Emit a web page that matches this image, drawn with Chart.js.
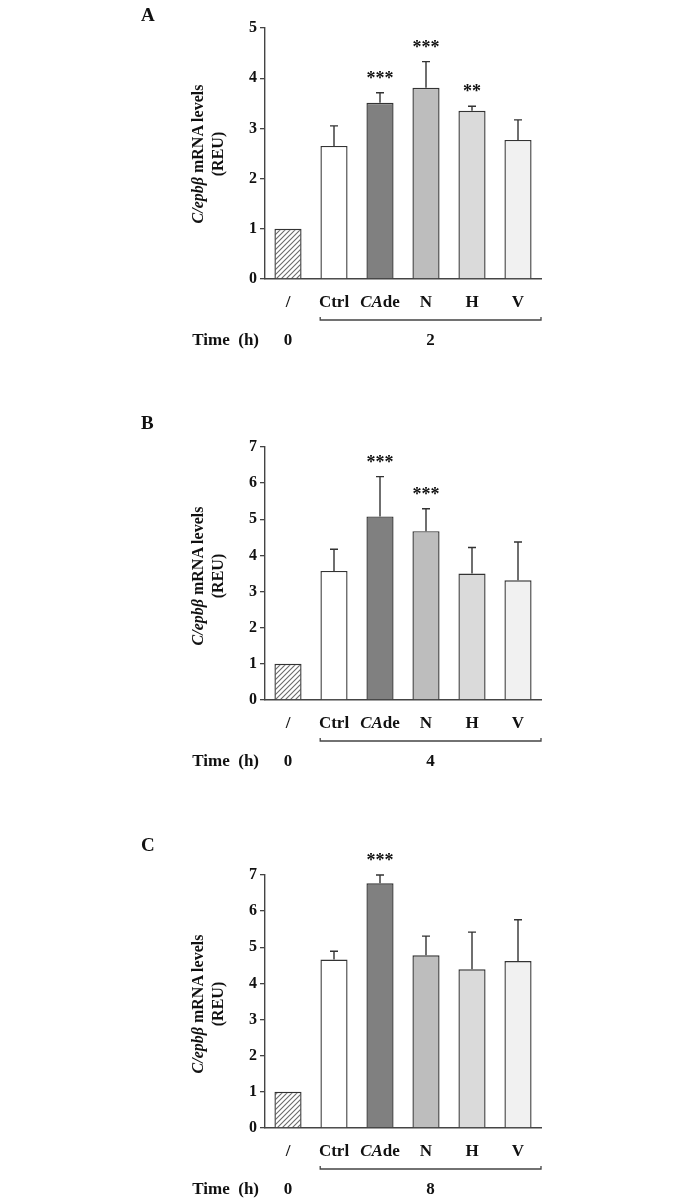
<!DOCTYPE html>
<html>
<head>
<meta charset="utf-8">
<script src="https://cdn.jsdelivr.net/npm/chart.js@4"></script>
<style>
  html, body { margin: 0; padding: 0; background: #fff; }
  body { width: 683px; height: 1199px; position: relative; overflow: hidden;
         font-family: "Liberation Serif", "Times New Roman", serif; color: #111; }
  .panel { position: absolute; left: 0; width: 683px; }
  .letter { position: absolute; left: 141px; font-weight: bold; font-size: 19px; }
  .ytitle { position: absolute; width: 240px; text-align: center; font-weight: bold; font-size: 16px;
            line-height: 20px; transform: rotate(-90deg); transform-origin: center center; }
</style>
</head>
<body>
<div class="panel" id="pA" style="top:0;height:350px"><canvas id="chartA"></canvas></div>
<div class="panel" id="pB" style="top:380px;height:390px"><canvas id="chartB"></canvas></div>
<div class="panel" id="pC" style="top:790px;height:409px"><canvas id="chartC"></canvas></div>

<div class="letter" style="top:4px">A</div>
<div class="letter" style="top:412px">B</div>
<div class="letter" style="top:834px">C</div>

<div class="ytitle" style="left:88px;top:134px"><i>C/epbβ</i> mRNA levels<br>(REU)</div>
<div class="ytitle" style="left:88px;top:556px"><i>C/epbβ</i> mRNA levels<br>(REU)</div>
<div class="ytitle" style="left:88px;top:984px"><i>C/epbβ</i> mRNA levels<br>(REU)</div>

<script>
// categories and values
const categories = ["/", "Ctrl", "CAde", "N", "H", "V"];
const timeLabels = ["0", "2", "4", "8"];

const valuesA = [1.0, 2.65, 3.51, 3.81, 3.35, 2.77];
const errorsA = [0, 0.40, 0.20, 0.52, 0.09, 0.40];
const starsA  = ["", "", "***", "***", "**", ""];

const valuesB = [1.0, 3.57, 5.08, 4.67, 3.50, 3.31];
const errorsB = [0, 0.60, 1.10, 0.62, 0.72, 1.06];
const starsB  = ["", "", "***", "***", "", ""];

const valuesC = [1.0, 4.66, 6.77, 4.78, 4.39, 4.62];
const errorsC = [0, 0.23, 0.23, 0.53, 1.03, 1.14];
const starsC  = ["", "", "***", "", "", ""];

const barColors = [null, "#ffffff", "#808080", "#bdbdbd", "#dadada", "#f1f1f1"];

// hatch for the baseline bar
function hatchPattern() {
  const c = document.createElement("canvas");
  c.width = 5; c.height = 5;
  const g = c.getContext("2d");
  g.fillStyle = "#fff";
  g.fillRect(0, 0, 5, 5);
  g.strokeStyle = "#6a6a6a";
  g.lineWidth = 1.1;
  g.beginPath();
  g.moveTo(-1, 6); g.lineTo(6, -1);
  g.moveTo(-1, 1); g.lineTo(1, -1);
  g.moveTo(4, 6); g.lineTo(6, 4);
  g.stroke();
  return g.createPattern(c, "repeat");
}

const serif = '"Liberation Serif", "Times New Roman", serif';

const extrasPlugin = {
  id: "extras",
  afterDatasetsDraw(chart, args, opts) {
    const ctx = chart.ctx;
    const x = chart.scales.x, y = chart.scales.y;
    const vals = chart.data.datasets[0].data;
    ctx.save();
    // error bars (upper only)
    ctx.strokeStyle = "#333";
    ctx.lineWidth = 1.4;
    vals.forEach((v, i) => {
      const e = opts.errors[i];
      if (!e) return;
      const px = x.getPixelForValue(i);
      const top = y.getPixelForValue(v + e);
      ctx.beginPath();
      ctx.moveTo(px, y.getPixelForValue(v));
      ctx.lineTo(px, top);
      ctx.moveTo(px - 4, top);
      ctx.lineTo(px + 4, top);
      ctx.stroke();
    });
    // significance stars
    ctx.fillStyle = "#111";
    ctx.font = "bold 18px " + serif;
    ctx.textAlign = "center";
    ctx.textBaseline = "alphabetic";
    vals.forEach((v, i) => {
      const s = opts.stars[i];
      if (!s) return;
      const top = y.getPixelForValue(v + opts.errors[i]);
      ctx.fillText(s, x.getPixelForValue(i), top - 9);
    });
    // category labels
    const baseY = chart.chartArea.bottom + 28;
    categories.forEach((c, i) => {
      const px = x.getPixelForValue(i);
      if (c === "CAde") {
        ctx.font = "bold italic 17px " + serif;
        const w1 = ctx.measureText("CA").width;
        ctx.font = "bold 17px " + serif;
        const w2 = ctx.measureText("de").width;
        ctx.textAlign = "left";
        ctx.font = "bold italic 17px " + serif;
        ctx.fillText("CA", px - (w1 + w2) / 2, baseY);
        ctx.font = "bold 17px " + serif;
        ctx.fillText("de", px - (w1 + w2) / 2 + w1, baseY);
        ctx.textAlign = "center";
      } else {
        ctx.font = "bold 17px " + serif;
        ctx.fillText(c, px, baseY);
      }
    });
    // bracket under treated groups
    const step = x.getPixelForValue(1) - x.getPixelForValue(0);
    const bx1 = x.getPixelForValue(1) - step * 0.3;
    const bx2 = chart.chartArea.right;
    const by = chart.chartArea.bottom + 41;
    ctx.strokeStyle = "#444";
    ctx.lineWidth = 1.3;
    ctx.beginPath();
    ctx.moveTo(bx1, by - 3);
    ctx.lineTo(bx1, by);
    ctx.lineTo(bx2, by);
    ctx.lineTo(bx2, by - 3);
    ctx.stroke();
    // time row
    const ty = chart.chartArea.bottom + 66;
    ctx.font = "bold 17px " + serif;
    ctx.textAlign = "right";
    ctx.fillText("Time  (h)", chart.chartArea.left - 6, ty);
    ctx.textAlign = "center";
    ctx.fillText(timeLabels[0], x.getPixelForValue(0), ty);
    ctx.fillText(opts.time, (bx1 + bx2) / 2, ty);
    ctx.restore();
  }
};

function makePanel(id, values, errors, stars, yMax, time, padTop, padBottom) {
  const colors = barColors.map(c => c || hatchPattern());
  return new Chart(document.getElementById(id), {
    type: "bar",
    data: {
      labels: categories,
      datasets: [{
        data: values,
        backgroundColor: colors,
        borderColor: "#333",
        borderWidth: 1.4,
        borderSkipped: "bottom",
        categoryPercentage: 1.0,
        barPercentage: 0.59
      }]
    },
    options: {
      responsive: true,
      maintainAspectRatio: false,
      animation: false,
      layout: { padding: { left: 246, right: 142, top: padTop, bottom: padBottom } },
      plugins: {
        legend: { display: false },
        tooltip: { enabled: false },
        extras: { errors: errors, stars: stars, time: time }
      },
      scales: {
        x: {
          grid: { display: false },
          border: { display: true, color: "#444", width: 1.4 },
          ticks: { display: false }
        },
        y: {
          min: 0,
          max: yMax,
          grid: { drawOnChartArea: false, drawTicks: true, tickLength: 5, color: "#444", lineWidth: 1.3 },
          border: { display: true, color: "#444", width: 1.4 },
          ticks: {
            stepSize: 1,
            padding: 3,
            color: "#111",
            font: { family: serif, size: 16, weight: "bold" }
          }
        }
      }
    },
    plugins: [extrasPlugin]
  });
}

makePanel("chartA", valuesA, errorsA, starsA, 5, timeLabels[1], 28, 63);
makePanel("chartB", valuesB, errorsB, starsB, 7, timeLabels[2], 67, 62);
makePanel("chartC", valuesC, errorsC, starsC, 7, timeLabels[3], 85, 63);
</script>
</body>
</html>
